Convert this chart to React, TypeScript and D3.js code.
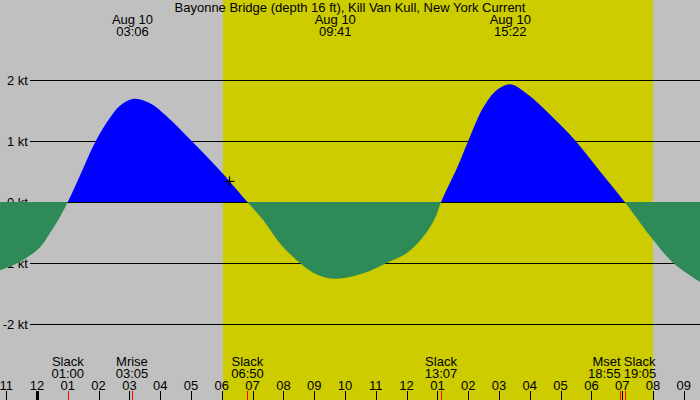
import * as d3 from "d3";

// current speed (hours from midnight Aug 10, knots; + flood, - ebb)
const hours = [
  -1.2, -0.55, 0.1, 0.42, 0.75, 1.0, 1.4, 1.91, 2.37, 2.7, 3.1, 3.67, 4.22, 5.02, 5.97,
  6.83, 7.35, 7.89, 8.54, 9.08, 9.68, 10.59, 11.35, 12.0, 12.54, 12.92, 13.12, 13.64,
  14.0, 14.48, 14.94, 15.37, 15.97, 16.62, 17.49, 18.25, 19.08, 20.0, 20.66, 21.53,
];
const knots = [
  -1.12, -0.98, -0.74, -0.51, -0.24, 0, 0.44, 1.0, 1.38, 1.58, 1.69, 1.62, 1.4, 1.0, 0.5,
  0, -0.3, -0.68, -1.0, -1.19, -1.26, -1.17, -1.0, -0.84, -0.57, -0.27, 0, 0.56,
  1.0, 1.54, 1.84, 1.93, 1.75, 1.45, 1.0, 0.52, 0, -0.62, -1.0, -1.31,
];

const title = "Bayonne Bridge (depth 16 ft), Kill Van Kull, New York Current";
const peakDates = ["Aug 10", "Aug 10", "Aug 10"];
const peakTimes = ["03:06", "09:41", "15:22"];
const eventNames = ["Slack", "Mrise", "Slack", "Slack", "Mset", "Slack"];
const eventTimes = ["01:00", "03:05", "06:50", "13:07", "18:55", "19:05"];
const speedTicks = [2, 1, 0, -1, -2];
const hourTicks = d3.range(-1, 22);
const daylight = ["06:02", "20:00"];
const nowTime = "06:15";

const W = 700;
const H = 400;
const font = "'Liberation Sans', Arial, sans-serif";

const toHour = (s: string) => {
  const [h, m] = s.split(":").map(Number);
  return h + m / 60;
};

const x = d3.scaleLinear().domain([0, 20]).range([37, 653]);
const y = d3.scaleLinear().domain([-2, 2]).range([324, 80]);

const pts: [number, number][] = hours.map((h, i) => [h, knots[i]]);
const area = d3
  .area<[number, number]>()
  .x((d) => x(d[0]))
  .y0(y(0))
  .y1((d) => y(d[1]))
  .curve(d3.curveCatmullRom.alpha(0.5));

const hourLabel = (h: number) => {
  const v = ((h % 12) + 12) % 12;
  return String(v === 0 ? 12 : v).padStart(2, "0");
};

// labels of events that sit close together are pushed apart
const eventX = eventTimes.map((t) => x(toHour(t)));
const anchorFor = (i: number) => {
  if (i + 1 < eventX.length && eventX[i + 1] - eventX[i] < 30) return "end";
  if (i > 0 && eventX[i] - eventX[i - 1] < 30) return "start";
  return "middle";
};
const labelShift = (a: string) => (a === "end" ? 1 : a === "start" ? -1 : 0);

export default function App() {
  const d = area(pts) || undefined;
  const nowH = toHour(nowTime);
  const interp = d3.scaleLinear().domain(hours).range(knots);
  const nx = x(nowH);
  const ny = y(interp(nowH));

  return (
    <>
      <style>{"body{margin:0}"}</style>
      <svg width={W} height={H} style={{ display: "block" }} fontFamily={font}>
        <defs>
          <clipPath id="above">
            <rect x={0} y={0} width={W} height={y(0)} />
          </clipPath>
          <clipPath id="below">
            <rect x={0} y={y(0)} width={W} height={H - y(0)} />
          </clipPath>
        </defs>
        <rect width={W} height={H} fill="#c0c0c0" />
        <rect
          x={x(toHour(daylight[0]))}
          y={0}
          width={x(toHour(daylight[1])) - x(toHour(daylight[0]))}
          height={H}
          fill="#cccc00"
        />
        {speedTicks.map((k) => (
          <g key={k}>
            <line
              x1={30}
              x2={W}
              y1={Math.round(y(k)) + 0.5}
              y2={Math.round(y(k)) + 0.5}
              stroke="#000"
              shapeRendering="crispEdges"
            />
            <text x={28} y={y(k) + 5} textAnchor="end" fontSize={13}>
              {`${k} kt`}
            </text>
          </g>
        ))}
        <path d={d} fill="#0000ff" clipPath="url(#above)" />
        <path d={d} fill="#2e8b57" clipPath="url(#below)" />
        <g stroke="#000" strokeWidth={1.2}>
          <line x1={nx - 5} x2={nx + 5} y1={ny} y2={ny} />
          <line x1={nx} x2={nx} y1={ny - 5} y2={ny + 5} />
        </g>
        <text x={W / 2} y={12} textAnchor="middle" fontSize={13}>
          {title}
        </text>
        {peakTimes.map((t, i) => (
          <g key={t} textAnchor="middle" fontSize={13}>
            <text x={x(toHour(t))} y={24}>
              {peakDates[i]}
            </text>
            <text x={x(toHour(t))} y={36}>
              {t}
            </text>
          </g>
        ))}
        {hourTicks.map((h) => (
          <g key={h}>
            <line
              x1={Math.round(x(h)) + 0.5}
              x2={Math.round(x(h)) + 0.5}
              y1={391}
              y2={H}
              stroke="#000"
              strokeWidth={h % 24 === 0 ? 3 : 1}
              shapeRendering="crispEdges"
            />
            <text x={x(h)} y={390} textAnchor="middle" fontSize={13}>
              {hourLabel(h)}
            </text>
          </g>
        ))}
        {eventTimes.map((t, i) => {
          const a = anchorFor(i);
          const lx = eventX[i] + labelShift(a);
          return (
            <g key={t}>
              <line
                x1={Math.round(eventX[i]) + 0.5}
                x2={Math.round(eventX[i]) + 0.5}
                y1={391}
                y2={H}
                stroke="#ff0000"
                shapeRendering="crispEdges"
              />
              <g textAnchor={a} fontSize={13}>
                <text x={lx} y={366}>
                  {eventNames[i]}
                </text>
                <text x={lx} y={378}>
                  {t}
                </text>
              </g>
            </g>
          );
        })}
      </svg>
    </>
  );
}
